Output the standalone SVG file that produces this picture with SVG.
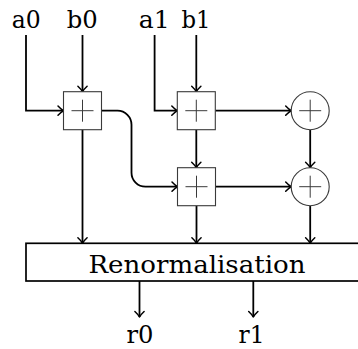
<svg xmlns="http://www.w3.org/2000/svg" width="358" height="349" viewBox="0 0 358 349">
<style>
.lbl{font-family:"DejaVu Serif","Liberation Serif",serif;font-size:24px;fill:#000;text-anchor:middle}
.op{fill:#fff;stroke:#3a3a3a;stroke-width:1.1}
.plus{stroke:#3a3a3a;stroke-width:1;fill:none}
.con{fill:none;stroke:#000;stroke-width:1.8;marker-end:url(#arr)}
</style>
<defs>
<marker id="arr" markerUnits="userSpaceOnUse" viewBox="-8 -8 10 16" refX="0" refY="0" markerWidth="10" markerHeight="16" orient="auto" overflow="visible">
<path d="M-5.5,-4.6 Q-2,-0.9 0,0 Q-2,0.9 -5.5,4.6" fill="none" stroke="#000" stroke-width="1.5" stroke-linecap="round" stroke-linejoin="round"/>
</marker>
</defs>
<g id="labels">
<text class="lbl" x="26.2" y="27.5" textLength="29" lengthAdjust="spacingAndGlyphs">a0</text>
<text class="lbl" x="82.3" y="27.5" textLength="31" lengthAdjust="spacingAndGlyphs">b0</text>
<text class="lbl" x="154.3" y="27.5" textLength="31" lengthAdjust="spacingAndGlyphs">a1</text>
<text class="lbl" x="196" y="27.5" textLength="29" lengthAdjust="spacingAndGlyphs">b1</text>
<text class="lbl" x="140" y="343.3" textLength="27" lengthAdjust="spacingAndGlyphs">r0</text>
<text class="lbl" x="251.6" y="343.3" textLength="26" lengthAdjust="spacingAndGlyphs">r1</text>
</g>
<g id="connectors">
<path class="con" d="M26,35 V110.7 H63.5"/>
<path class="con" d="M82.5,35 V91.7"/>
<path class="con" d="M154.6,35 V110.7 H177.3"/>
<path class="con" d="M196.3,35 V91.7"/>
<path class="con" d="M101.5,110.7 H117.5 A14,14 0 0 1 131.5,124.7 V172.7 A14,14 0 0 0 145.5,186.7 H177.5"/>
<path class="con" d="M215.3,110.7 H291.2"/>
<path class="con" d="M196.3,129.7 V167.7"/>
<path class="con" d="M310.2,129.7 V167.7"/>
<path class="con" d="M215.5,186.7 H291.2"/>
<path class="con" d="M82.5,129.7 V243.3"/>
<path class="con" d="M196.5,205.7 V243.3"/>
<path class="con" d="M310.2,205.7 V243.3"/>
<path class="con" d="M139.5,281 V317"/>
<path class="con" d="M253.3,281 V317"/>
</g>
<g id="add0">
<rect class="op" x="63.5" y="91.7" width="38" height="38"/>
<path class="plus" d="M71.5,110.7 H93.5 M82.5,99.7 V121.7"/>
</g>
<g id="add1">
<rect class="op" x="177.3" y="91.7" width="38" height="38"/>
<path class="plus" d="M185.3,110.7 H207.3 M196.3,99.7 V121.7"/>
</g>
<g id="add2">
<rect class="op" x="177.5" y="167.7" width="38" height="38"/>
<path class="plus" d="M185.5,186.7 H207.5 M196.5,175.7 V197.7"/>
</g>
<g id="oplus1">
<circle class="op" cx="310.2" cy="110.7" r="19"/>
<path class="plus" d="M299.2,110.7 H321.2 M310.2,99.7 V121.7"/>
</g>
<g id="oplus2">
<circle class="op" cx="310.2" cy="186.7" r="19"/>
<path class="plus" d="M299.2,186.7 H321.2 M310.2,175.7 V197.7"/>
</g>
<g id="renorm">
<rect x="26" y="243.3" width="340" height="37.7" fill="#fff" stroke="#000" stroke-width="1.7"/>
<text class="lbl" x="197" y="272.7" textLength="217" lengthAdjust="spacingAndGlyphs">Renormalisation</text>
</g>
</svg>
